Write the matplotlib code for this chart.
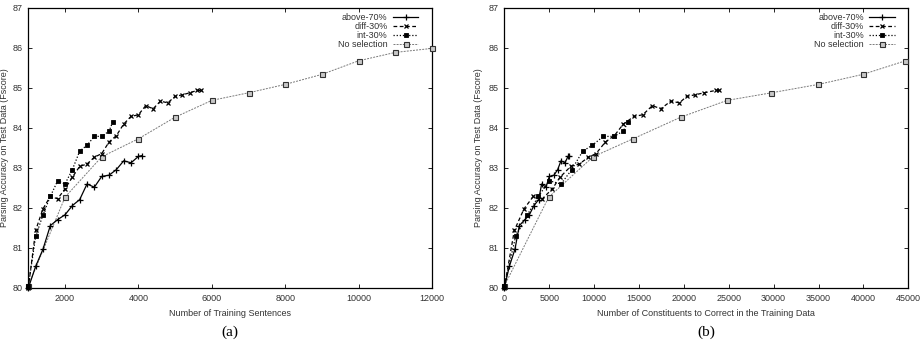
import matplotlib
matplotlib.use("Agg")
import matplotlib.pyplot as plt

plt.rcParams['font.family'] = ['Liberation Sans', 'DejaVu Sans']

# ---- data: panel (a) x = training sentences ----
above_sent = [1000, 1200, 1400, 1600, 1800, 2000, 2200, 2400, 2600, 2800, 3000, 3200, 3400, 3600, 3800, 4000, 4100]
above_f = [80.0, 80.54, 80.97, 81.56, 81.71, 81.83, 82.06, 82.21, 82.6, 82.52, 82.79, 82.82, 82.96, 83.18, 83.13, 83.29, 83.31]

diff_sent = [1000, 1200, 1400, 1600, 1800, 2000, 2200, 2400, 2600, 2800, 3000, 3200, 3400, 3600, 3800, 4000,
             4200, 4400, 4600, 4800, 5000, 5200, 5400, 5600, 5700]
diff_f = [80.0, 81.44, 81.98, 82.29, 82.23, 82.48, 82.77, 83.04, 83.1, 83.27, 83.36, 83.65, 83.81, 84.1, 84.29, 84.33,
          84.56, 84.48, 84.67, 84.63, 84.79, 84.83, 84.88, 84.94, 84.94]

int_sent = [1000, 1200, 1400, 1600, 1800, 2000, 2200, 2400, 2600, 2800, 3000, 3200, 3300]
int_f = [80.05, 81.29, 81.83, 82.29, 82.68, 82.6, 82.96, 83.42, 83.57, 83.79, 83.79, 83.92, 84.15]

nosel_sent = [1000, 2000, 3000, 4000, 5000, 6000, 7000, 8000, 9000, 10000, 11000, 12000]
nosel_f = [80.05, 82.27, 83.28, 83.73, 84.27, 84.69, 84.88, 85.09, 85.34, 85.68, 85.89, 85.99]

# ---- panel (b) x = constituents to correct ----
above_const = [0, 557, 1189, 1672, 2303, 2786, 3306, 3826, 4160, 4643, 5015, 5535, 5944, 6315, 6761, 7095, 7244]
diff_const = [0, 1118, 2195, 3235, 4238, 5353, 6207, 7396, 8362, 9365, 10219, 11259, 12262, 13265, 14454, 15420,
              16497, 17426, 18540, 19506, 20324, 21252, 22255, 23556, 23928]
int_const = [0, 1267, 2567, 3792, 5015, 6319, 7510, 8737, 9807, 11033, 12226, 13228, 13820]
nosel_const = [0, 4941, 9881, 14339, 19650, 24814, 29755, 34993, 39933, 44688]

labels = ["above-70%", "diff-30%", "int-30%", "No selection"]
xlabels = ["Number of Training Sentences", "Number of Constituents to Correct in the Training Data"]
ylabel = "Parsing Accuracy on Test Data (Fscore)"
panel_tags = ["(a)", "(b)"]

fig = plt.figure(figsize=(9.22, 3.44), dpi=100)
W, H = 922, 344

def add_ax(l, r, t, b):
    return fig.add_axes([l / W, 1 - b / H, (r - l) / W, (b - t) / H])

axA = add_ax(28.3, 432, 8, 288)
axB = add_ax(504.3, 908.3, 8, 288)

def draw(ax, xs, xlim, xticks, xlabel, tag, ylab_x):
    xa, xd, xi, xn = xs
    ax.plot(xa, above_f[:len(xa)], color='black', lw=0.9, ls='-', marker='+', ms=4, mew=0.9,
            label=labels[0], zorder=4, clip_on=False)
    ax.plot(xd, diff_f[:len(xd)], color='black', lw=0.9, ls=(0, (3, 2)), marker='x', ms=3.5, mew=0.9,
            label=labels[1], zorder=4, clip_on=False)
    ax.plot(xi, int_f[:len(xi)], color='black', lw=0.9, ls=(0, (1, 1.5)), marker='s', ms=2.5, mew=0.6,
            mfc='black', label=labels[2], zorder=4, clip_on=False)
    ax.plot(xn, nosel_f[:len(xn)], color='#7a7a7a', lw=0.7, ls=(0, (2, 1.2)), marker='s', ms=3.6, mew=0.8,
            mfc='#c8c8c8', mec='#333333', label=labels[3], zorder=3, clip_on=False)
    ax.set_xlim(*xlim)
    ax.set_ylim(80, 87)
    ax.set_xticks(xticks)
    ax.set_yticks(range(80, 88))
    ax.tick_params(direction='in', top=True, right=True, labelsize=6.5, length=3, width=0.6, pad=4,
                   colors='black', labelcolor='#333333')
    for s in ax.spines.values():
        s.set_linewidth(0.9)
    ax.set_xlabel(xlabel, fontsize=6.5, color='#333333', labelpad=5)
    ax.set_ylabel(ylabel, fontsize=6.5, color='#333333')
    ax.yaxis.set_label_coords(ylab_x, 0.5)
    leg = ax.legend(loc='upper right', frameon=False, markerfirst=False, fontsize=6.5,
                    handlelength=2.8, handletextpad=0.6, labelspacing=0.0,
                    borderaxespad=0.0, bbox_to_anchor=(0.975, 0.995))
    for t in leg.get_texts():
        t.set_color('#333333')
    ax.text(0.5, -0.135, tag, transform=ax.transAxes, ha='center', va='top',
            fontsize=11, family='Liberation Serif')

draw(axA, (above_sent, diff_sent, int_sent, nosel_sent), (1000, 12000),
     [2000, 4000, 6000, 8000, 10000, 12000], xlabels[0], panel_tags[0], -0.049)
draw(axB, (above_const, diff_const, int_const, nosel_const), (0, 45000),
     list(range(0, 45001, 5000)), xlabels[1], panel_tags[1], -0.053)

fig.savefig("out.png", dpi=100)
